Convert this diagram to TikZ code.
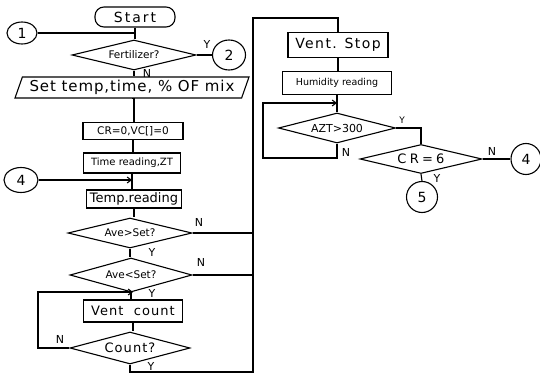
\documentclass[tikz,border=0pt]{standalone}
\usepackage{fontspec}
\setmainfont{DejaVu Sans}
\usetikzlibrary{shapes.geometric,arrows.meta}

\newcommand{\fs}[1]{\fontsize{#1}{#1}\selectfont}

\begin{document}
\begin{tikzpicture}[x=1pt,y=-1pt,line width=1.1pt,
  every node/.style={inner sep=0pt},
  term/.style={draw,rectangle,rounded corners=9pt},
  proc/.style={draw,rectangle},
  test/.style={draw,diamond,aspect=4},
  io/.style={draw,trapezium,trapezium left angle=63,trapezium right angle=117,trapezium stretches body=true},
  joint/.style={draw,ellipse,font=\fs{14}},
  yn/.style={font=\fs{11}},
  flow/.style={-{Straight Barb[length=4pt,width=6pt]}}]

\useasboundingbox (0,0) rectangle (540,374);

% ---------- main column ----------
\node[term,minimum width=80,minimum height=20,font={\fs{14}\addfontfeature{LetterSpace=14}}] (start) at (135,17) {Start};
\node[joint,minimum width=30,minimum height=22] (c1) at (22,33) {1};
\node[test,minimum width=124,minimum height=30,font=\fs{10.5}] (fert) at (134,55) {Fertilizer?};
\node[joint,minimum width=33,minimum height=30] (c2) at (229,55) {2};
\node[io,minimum width=234,minimum height=21,font={\fs{15}\addfontfeature{LetterSpace=6}}] (set) at (132,87.5) {Set temp,time, \% OF mix};
\node[proc,minimum width=100,minimum height=17,font=\fs{10.5}] (init) at (133,131) {CR=0,VC[]=0};
\node[proc,minimum width=97,minimum height=20,font=\fs{10}] (time) at (132,163) {Time reading,ZT};
\node[joint,minimum width=34,minimum height=25] (c4a) at (21,180) {4};
\node[proc,minimum width=95,minimum height=18,font=\fs{13}] (temp) at (134,199) {Temp.reading};
\node[test,minimum width=124,minimum height=30,font=\fs{10.5}] (ave1) at (130,233) {Ave>Set?};
\node[test,minimum width=122,minimum height=34,font=\fs{10.5}] (ave2) at (131,275) {Ave<Set?};
\node[proc,minimum width=99,minimum height=22,font={\fs{13}\addfontfeature{LetterSpace=8}}] (vent) at (133,311) {Vent\ \ count};
\node[test,minimum width=120,minimum height=32,font={\fs{13}\addfontfeature{LetterSpace=8}}] (count) at (130,348) {Count?};

% ---------- right column ----------
\node[proc,minimum width=100,minimum height=25,font={\fs{14}\addfontfeature{LetterSpace=10}}] (stop) at (338,45) {Vent. Stop};
\node[proc,minimum width=109,minimum height=23,font=\fs{9.5}] (hum) at (337,83) {Humidity reading};
\node[test,minimum width=117,minimum height=30,font=\fs{11}] (azt) at (337,128) {AZT>300};
\node[test,minimum width=122,minimum height=29,font={\fs{13}\addfontfeature{LetterSpace=25}}] (cr6) at (421,159) {CR=6};
\node[joint,minimum width=30,minimum height=31] (c4b) at (526,159) {4};
\node[joint,minimum width=31,minimum height=31] (c5) at (422,197) {5};

% rail on the right of the main column
\coordinate (railtop) at (253,18);
\coordinate (railbot) at (253,372);
\coordinate (loopL) at (38,292);
\coordinate (loopR) at (263,103);
\coordinate (loopRb) at (263,158);

% ---------- connectors ----------
\draw (start.south) -- (start.south |- fert.north);
\draw (c1.east) -- (c1.east -| start.south);
\draw (fert.east) -- (c2.west);
\draw (fert.south) -- (fert.south |- set.north);
\draw (init.north -| fert.south) |- (set.south);
\draw (init.south) -- (init.south |- time.north);
\draw (time.south) -- (time.south |- temp.north);
\draw[flow] (c4a.east) -- (c4a.east -| time.south);
\draw (temp.south) -- (temp.south |- ave1.north);
\draw (ave1.south) -- (ave1.south |- ave2.north);
\draw (ave1.east) -- (ave1.east -| railtop);
\draw (ave2.east) -- (ave2.east -| railtop);
\draw (ave2.south) -- (ave2.south |- vent.north);
\draw (vent.south) -- (vent.south |- count.north);
\draw[flow] (count.west) -| (loopL) -- (loopL -| vent.north);
\draw (count.south) |- (railbot) -- (railtop) -| (stop.north);

\draw (stop.south) -- (stop.south |- hum.north);
\draw (hum.south) -- (hum.south |- azt.north);
\draw[flow] (azt.south) |- (loopRb) -- (loopR) -- (loopR -| azt.north);
\draw (azt.east) -| (cr6.north);
\draw (cr6.east) -- (c4b.west);
\draw (cr6.south) -- (c5.north);

% ---------- branch labels ----------
\node[yn] (lfy) at (207,44) {Y};
\node[yn] (lfn) at (147,73) {N};
\node[yn] (l1n) at (199,222) {N};
\node[yn] (l1y) at (152,252) {Y};
\node[yn] (l2n) at (201,262) {N};
\node[yn] (l2y) at (152,293) {Y};
\node[yn] (lcn) at (60,339) {N};
\node[yn] (lcy) at (151,366) {Y};
\node[yn,font=\fs{9}] (lay) at (402,120) {Y};
\node[yn] (lan) at (346,152) {N};
\node[yn] (lrn) at (492,151) {N};
\node[yn] (lry) at (437,178) {Y};
\end{tikzpicture}
\end{document}
